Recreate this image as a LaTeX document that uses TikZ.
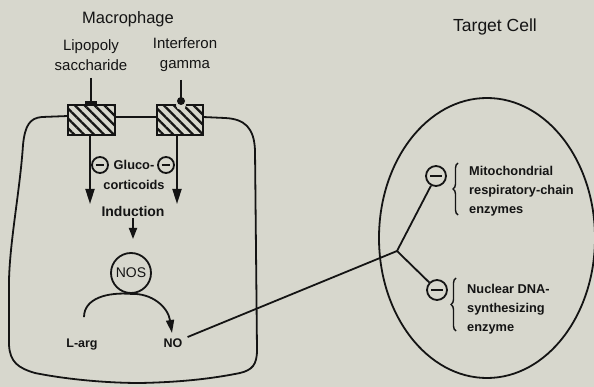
\documentclass[tikz,border=0pt]{standalone}
\usepackage{fontspec}
\setmainfont{Liberation Sans}
\usetikzlibrary{arrows.meta,patterns.meta,decorations.pathreplacing}
\definecolor{bg}{RGB}{215,215,205}
\definecolor{ink}{RGB}{20,20,20}
\tikzset{
  line/.style={draw=ink,line width=1.8pt},
  arr/.style={line,-{Triangle[length=15pt,width=9pt]}},
  hatchbox/.style={draw=ink,line width=1.8pt,pattern={Lines[angle=-45,distance=7pt,line width=2.3pt]},pattern color=ink},
  minus/.style={circle,draw=ink,line width=1.8pt,minimum size=#1,inner sep=0pt,
    path picture={\draw[ink,line width=2.4pt] ([xshift=-0.28*#1]path picture bounding box.center) -- ([xshift=0.28*#1]path picture bounding box.center);}},
  lbl/.style={text=ink,inner sep=0pt},
  bld/.style={text=ink,inner sep=0pt,font=\bfseries\fontsize{12.8}{19}\selectfont,align=left,anchor=west},
  brc/.style={line,line width=1.4pt,decorate,decoration={brace,amplitude=5pt}}
}
\begin{document}
\begin{tikzpicture}[x=1pt,y=-1pt]
\useasboundingbox (0,0) rectangle (594,387);
\fill[bg] (0,0) rectangle (594,387);

% titles
\node[lbl,font=\fontsize{16.5}{18}\selectfont] (mac) at (128,19) {Macrophage};
\node[lbl,font=\fontsize{17.5}{20}\selectfont] (tgt) at (495,27) {Target Cell};
\node[lbl,font=\fontsize{15}{20}\selectfont,align=center] (lps) at (91,55) {Lipopoly\\saccharide};
\node[lbl,font=\fontsize{15}{20}\selectfont,align=center] (ifn) at (185,55) {Interferon\\gamma};

% macrophage cell outline
\draw[line] (68,116) -- (42,117) .. controls (30,118) and (25,125) .. (23,145)
  .. controls (20,190) and (10,240) .. (9,280) -- (9,345)
  .. controls (10,362) and (18,368) .. (35,373)
  .. controls (70,380) and (110,383) .. (140,383)
  .. controls (190,382) and (220,377) .. (240,373)
  .. controls (252,370) and (257,365) .. (257,350) -- (255,150)
  .. controls (254,128) and (245,119) .. (225,118) -- (203,117);
\draw[line] (115,117) -- (157,117);

% receptors
\filldraw[hatchbox] (68,105) rectangle (115,135);
\filldraw[hatchbox] (157,105) rectangle (203,135);
\fill[ink] (85,101) rectangle (97,106);
\draw[line] (91,78) -- (91,102);
\fill[bg] (181,105) circle (5);
\draw[line] (181,80) -- (181,100);
\fill[ink] (181,101) circle (4);

% signalling arrows
\coordinate (a1) at (90,135);
\coordinate (b1) at (90,204);
\coordinate (a2) at (177,135);
\coordinate (b2) at (177,204);
\draw[arr] (a1) -- (b1);
\draw[arr] (a2) -- (b2);
\node[minus=16pt] (m1) at (100,165) {};
\node[minus=16pt] (m2) at (166,165) {};
\node[lbl,font=\bfseries\fontsize{12.8}{20}\selectfont,align=center] (gc) at (134,175) {Gluco-\\corticoids};
\node[lbl,font=\bfseries\fontsize{14}{15}\selectfont] (ind) at (133,211) {Induction};
\coordinate (i2) at (133,239);
\draw[line,-{Triangle[length=11pt,width=8pt]}] (ind.south) ++(0,2) -- (i2);

% NOS reaction
\node[circle,draw=ink,line width=1.8pt,minimum size=40pt,inner sep=0pt,text=ink,font=\fontsize{14}{16}\selectfont] (nos) at (131,273) {NOS};
\node[lbl,font=\bfseries\fontsize{12.5}{15}\selectfont] (larg) at (82,345) {L-arg};
\node[text=ink,inner sep=5pt,font=\bfseries\fontsize{12.5}{15}\selectfont] (no) at (173,343) {NO};
\draw[line,-{Triangle[length=13pt,width=8pt]}] (larg.north) ++(2,-22) .. controls (84,298) and (108,292) .. (nos.south) .. controls (152,293) and (168,307) .. (172,333);

% target cell
\draw[line] (487,238) ellipse [x radius=108, y radius=140];
\coordinate (J) at (397,251);
\draw[line] (no) -- (J);
\node[minus=20pt] (t1) at (436,176) {};
\node[minus=20pt] (t2) at (437,290) {};
\draw[line] (J) -- (t1);
\draw[line] (J) -- (t2);

\draw[brc] (458,215) -- (458,163);
\node[bld] (mito) at (469,191) {Mitochondrial\\respiratory-chain\\enzymes};
\draw[brc] (456,331) -- (456,278);
\node[bld] (nuc) at (467,309) {Nuclear DNA-\\synthesizing\\enzyme};
\end{tikzpicture}
\end{document}
